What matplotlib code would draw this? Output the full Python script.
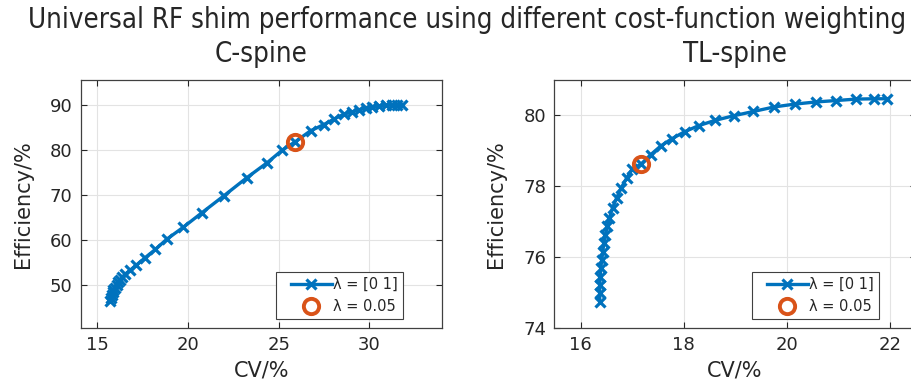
import matplotlib
matplotlib.use('Agg')
import matplotlib.pyplot as plt
from matplotlib.lines import Line2D
from matplotlib.legend_handler import HandlerLine2D

# ---------------- data ----------------
cspine_cv = [15.70, 15.74, 15.79, 15.84, 15.88, 15.95, 16.07, 16.16, 16.25, 16.38,
             16.53, 16.81, 17.14, 17.64, 18.19, 18.83, 19.72, 20.77, 21.96, 23.25,
             24.36, 25.19, 25.92, 26.75, 27.49, 28.04, 28.59, 29.05, 29.42, 29.79,
             30.16, 30.53, 30.90, 31.26, 31.54, 31.80]
cspine_eff = [46.5, 47.2, 47.8, 48.4, 48.9, 49.4, 50.0, 50.6, 51.1, 51.8,
              52.4, 53.3, 54.4, 56.1, 57.9, 60.2, 62.8, 66.1, 69.8, 73.9,
              77.2, 80.0, 81.9, 84.3, 85.7, 86.9, 88.0, 88.5, 89.0, 89.3,
              89.6, 89.8, 90.0, 90.1, 90.1, 90.1]
cspine_sel_cv = [25.92]
cspine_sel_eff = [81.9]

tl_cv = [16.37, 16.37, 16.37, 16.38, 16.39, 16.41, 16.43, 16.45, 16.48, 16.52,
         16.56, 16.62, 16.70, 16.79, 16.89, 17.00, 17.17, 17.36, 17.55, 17.77,
         18.02, 18.29, 18.61, 18.97, 19.35, 19.76, 20.16, 20.57, 20.96, 21.34,
         21.70, 21.95]
tl_eff = [74.73, 74.97, 75.20, 75.44, 75.68, 75.91, 76.15, 76.39, 76.63, 76.87,
          77.10, 77.39, 77.67, 77.96, 78.22, 78.48, 78.62, 78.89, 79.13, 79.34,
          79.54, 79.71, 79.86, 79.99, 80.11, 80.24, 80.32, 80.38, 80.42, 80.46,
          80.47, 80.47]
tl_sel_cv = [17.17]
tl_sel_eff = [78.62]

suptitle = "Universal RF shim performance using different cost-function weighting"
titles = ["C-spine", "TL-spine"]
xlabel = "CV/%"
ylabel = "Efficiency/%"
legend_labels = ["\u03bb = [0 1]", "\u03bb = 0.05"]
c_xticks = [15, 20, 25, 30]
c_yticks = [50, 60, 70, 80, 90]
tl_xticks = [16, 18, 20, 22]
tl_yticks = [74, 76, 78, 80]

# ---------------- style ----------------
BLUE = '#0072BD'
ORANGE = '#D95319'
TXT = '#262626'
plt.rcParams['font.family'] = ['DejaVu Sans']
plt.rcParams['text.color'] = TXT
plt.rcParams['axes.labelcolor'] = TXT
plt.rcParams['xtick.color'] = TXT
plt.rcParams['ytick.color'] = TXT


class LeadHandler(HandlerLine2D):
    """Line handle that leaves some blank space on its left (MATLAB-like)."""
    lead = 0.2

    def get_xdata(self, legend, xdescent, ydescent, width, height, fontsize):
        xd, xm = super().get_xdata(legend, xdescent, ydescent, width, height, fontsize)
        off = -xdescent
        f = self.lead
        xd = [off + f * width + (x - off) * (1 - f) for x in xd]
        xm = [off + f * width + (x - off) * (1 - f) for x in xm]
        return xd, xm


fig = plt.figure(figsize=(9.11, 3.85), dpi=100)
ax1 = fig.add_axes([0.0886, 0.1488, 0.3966, 0.6434])
ax2 = fig.add_axes([0.6085, 0.1488, 0.3966, 0.6434])

fig.text(0.513, 1 - 28 / 385, suptitle, ha='center', va='baseline',
         fontsize=19.8, fontstretch='condensed', color=TXT)


def style(ax, x, y, sx, sy, xlim, ylim, xt, yt, title, anchor):
    ax.plot(x, y, color=BLUE, lw=2.4, marker='x', ms=7, mew=2.3, zorder=3)
    ax.plot(sx, sy, ls='none', marker='o', ms=11, mfc='none', mec=ORANGE,
            mew=2.8, zorder=4)
    ax.set_xlim(*xlim)
    ax.set_ylim(*ylim)
    ax.set_xticks(xt)
    ax.set_yticks(yt)
    ax.grid(True, color='#e3e3e3', lw=0.8)
    ax.set_axisbelow(True)
    ax.tick_params(direction='in', top=True, right=True, labelsize=13,
                   length=4, width=0.8, pad=6)
    for s in ax.spines.values():
        s.set_color('#404040')
        s.set_linewidth(0.9)
    ax.set_xlabel(xlabel, fontsize=15, labelpad=5)
    ax.set_ylabel(ylabel, fontsize=15, labelpad=12)
    ax.set_title(title, fontsize=19.8, fontstretch='condensed', pad=13, color=TXT)
    h1 = Line2D([], [], color=BLUE, lw=2.4, marker='x', ms=7, mew=2.3)
    h2 = Line2D([], [], ls='none', marker='o', ms=11, mfc='none', mec=ORANGE, mew=2.8)
    hm = {h1: LeadHandler(), h2: LeadHandler()}
    leg = ax.legend([h1, h2], legend_labels, loc='lower right',
                    bbox_to_anchor=anchor, borderaxespad=0, fontsize=10.5,
                    fancybox=False, framealpha=1, edgecolor='#404040',
                    handlelength=3.5, handletextpad=0.1, borderpad=0.35,
                    labelspacing=0.5, numpoints=1, handler_map=hm)
    leg.get_frame().set_linewidth(0.8)


style(ax1, cspine_cv, cspine_eff, cspine_sel_cv, cspine_sel_eff,
      (14.08, 34.0), (40.5, 95.6), c_xticks, c_yticks, titles[0], (0.892, 0.035))
style(ax2, tl_cv, tl_eff, tl_sel_cv, tl_sel_eff,
      (15.49, 22.5), (74.0, 81.0), tl_xticks, tl_yticks, titles[1], (0.899, 0.035))

fig.savefig('out.png', dpi=100)
